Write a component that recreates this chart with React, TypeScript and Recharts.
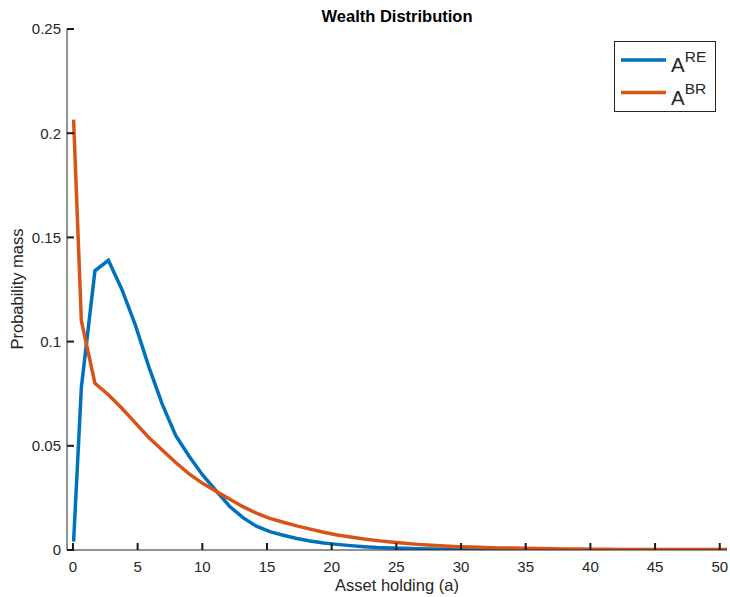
import React from 'react';
import { LineChart, Line, XAxis, YAxis, Legend } from 'recharts';

// asset grid and probability mass for the two economies
const aGrid = [
  0.05, 0.65, 1.7, 2.74, 3.78, 4.82, 5.86, 6.9, 7.94, 8.98,
  10.02, 11.06, 12.1, 13.14, 14.18, 15.22, 16.26, 17.3, 18.34, 19.38,
  20.42, 21.46, 22.5, 23.54, 24.58, 25.62, 26.66, 27.7, 28.74, 29.78,
  30.82, 31.86, 32.9, 33.94, 34.98, 36.02, 37.06, 38.1, 39.14, 40.18,
  41.22, 42.26, 43.3, 44.34, 45.38, 46.42, 47.46, 48.5, 49.54, 50.58,
];

const massRE = [
  0.004, 0.078, 0.134, 0.139, 0.125, 0.108, 0.088, 0.07, 0.055, 0.045,
  0.036, 0.0285, 0.021, 0.0155, 0.0114, 0.0088, 0.0071, 0.0055, 0.0043, 0.0034,
  0.0027, 0.0021, 0.0016, 0.0012, 0.001, 0.0008, 0.0006, 0.0005, 0.0004, 0.0003,
  0.0003, 0.0002, 0.0002, 0.0002, 0.0001, 0.0001, 0.0001, 0.0001, 0.0001, 0.0001,
  0.0001, 0.0001, 0.0001, 0.0001, 0.0001, 0.0001, 0.0001, 0.0001, 0.0001, 0.0001,
];

const massBR = [
  0.2065, 0.11, 0.08, 0.0745, 0.068, 0.061, 0.054, 0.048, 0.042, 0.0365,
  0.032, 0.0282, 0.0245, 0.0208, 0.0177, 0.0152, 0.0133, 0.0116, 0.01, 0.0085,
  0.0072, 0.0062, 0.0053, 0.0045, 0.0038, 0.0032, 0.0027, 0.0023, 0.0019, 0.0016,
  0.0014, 0.0012, 0.001, 0.0009, 0.0008, 0.0007, 0.0006, 0.0005, 0.0005, 0.0004,
  0.0004, 0.0003, 0.0003, 0.0003, 0.0002, 0.0002, 0.0002, 0.0002, 0.0002, 0.0002,
];

const xTicks = [0, 5, 10, 15, 20, 25, 30, 35, 40, 45, 50];
const yTicks = [0, 0.05, 0.1, 0.15, 0.2, 0.25];
const xDomain = [-0.46, 50.56];
const yDomain = [0, 0.25];
const seriesNames = ['A^RE', 'A^BR'];

const data = aGrid.map((a, i) => ({ a, re: massRE[i], br: massBR[i] }));

const AXIS = '#262626';
const FONT = '"Liberation Sans", Arial, Helvetica, sans-serif';
const TICK_LEN = 7;
const tickLineStyle = { stroke: '#1a1a1a', strokeWidth: 2 };

const renderLegend = (props: any) => {
  const payload = [...(props.payload || [])].sort(
    (p: any, q: any) => seriesNames.indexOf(p.value) - seriesNames.indexOf(q.value),
  );
  return (
    <svg width={103} height={72} style={{ display: 'block' }}>
      <rect x={0.5} y={0.5} width={101} height={70} fill="#fff" stroke={AXIS} strokeWidth={1} />
      {payload.map((entry: any, i: number) => {
        const [base, sup] = String(entry.value).split('^');
        const y = 19 + i * 32.5;
        return (
          <g key={entry.value}>
            <line x1={7} x2={52} y1={y} y2={y} stroke={entry.color} strokeWidth={3.5} />
            <text x={57} y={y + 12} fontFamily={FONT} fontSize={20.5} fill={AXIS}>
              {base}
              <tspan dy={-10.5} fontSize={15.5}>{sup}</tspan>
            </text>
          </g>
        );
      })}
    </svg>
  );
};

const App: React.FC = () => {
  return (
    <div style={{ position: 'relative', width: 730, height: 597, background: '#fff' }}>
      <style>{'body{margin:0}'}</style>
      {/* title and axis titles, underneath the chart svg */}
      <svg
        width={730}
        height={597}
        style={{ position: 'absolute', left: 0, top: 0, pointerEvents: 'none' }}
      >
        <text x={397} y={22} textAnchor="middle" fontFamily={FONT} fontSize={16.5} fontWeight="bold" fill="#000">
          Wealth Distribution
        </text>
        <text x={397} y={591} textAnchor="middle" fontFamily={FONT} fontSize={16.5} fill={AXIS}>
          Asset holding (a)
        </text>
        <text
          transform="translate(22.5,289) rotate(-90)"
          textAnchor="middle"
          fontFamily={FONT}
          fontSize={16.5}
          fill={AXIS}
        >
          Probability mass
        </text>
      </svg>
      <LineChart
        width={730}
        height={597}
        data={data}
        margin={{ top: 29, right: 3, bottom: 0, left: 0 }}
        style={{ fontFamily: FONT }}
      >
        <XAxis
          dataKey="a"
          type="number"
          domain={xDomain}
          ticks={xTicks}
          allowDataOverflow
          height={47}
          tickSize={-TICK_LEN}
          tickMargin={18}
          tickLine={tickLineStyle}
          stroke={AXIS}
          tick={{ fill: AXIS, fontSize: 15 }}
        />
        {/* mirror axes close the box on top and right */}
        <XAxis
          xAxisId="top"
          orientation="top"
          type="number"
          domain={xDomain}
          ticks={xTicks}
          allowDataOverflow
          height={0}
          tickSize={-TICK_LEN}
          tickLine={tickLineStyle}
          tick={false}
          stroke={AXIS}
        />
        <YAxis
          type="number"
          domain={yDomain}
          ticks={yTicks}
          allowDataOverflow
          width={67}
          tickSize={-TICK_LEN}
          tickMargin={13}
          tickLine={tickLineStyle}
          stroke={AXIS}
          tick={{ fill: AXIS, fontSize: 15 }}
        />
        <YAxis
          yAxisId="right"
          orientation="right"
          type="number"
          domain={yDomain}
          ticks={yTicks}
          allowDataOverflow
          width={0}
          tickSize={-TICK_LEN}
          tickLine={tickLineStyle}
          tick={false}
          stroke={AXIS}
        />
        <Line
          dataKey="re"
          name={seriesNames[0]}
          stroke="#0072BD"
          strokeWidth={3.5}
          dot={false}
          activeDot={false}
          isAnimationActive={false}
        />
        <Line
          dataKey="br"
          name={seriesNames[1]}
          stroke="#D95319"
          strokeWidth={3.5}
          dot={false}
          activeDot={false}
          isAnimationActive={false}
        />
        <Legend
          layout="vertical"
          align="center"
          verticalAlign="middle"
          content={renderLegend}
          wrapperStyle={{ left: 614, top: 41, width: 103, height: 72 }}
        />
      </LineChart>
    </div>
  );
};

export default App;
